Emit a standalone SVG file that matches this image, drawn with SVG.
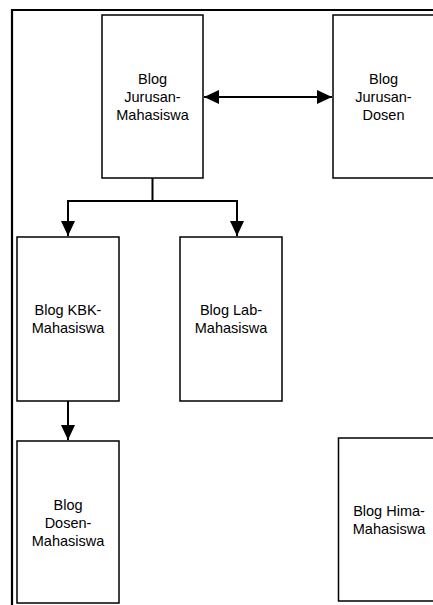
<svg xmlns="http://www.w3.org/2000/svg" width="433" height="605" viewBox="0 0 433 605">
<style>
.box{fill:#fff;stroke:#000;stroke-width:1.5}
.lbl{font-family:"Liberation Sans",Arial,sans-serif;font-size:14.5px;fill:#000;text-anchor:middle}
.conn{fill:none;stroke:#000;stroke-width:2}
</style>
<defs>
<marker id="ah" markerUnits="userSpaceOnUse" markerWidth="17" markerHeight="17" viewBox="0 0 17 17" refX="16" refY="8.5" orient="auto-start-reverse">
<path d="M1,1.5 L16,8.5 L1,15.5 Z" fill="#000"/>
</marker>
</defs>
<rect x="0" y="0" width="433" height="605" fill="#fff"/>
<path d="M12,605 V10 H433" fill="none" stroke="#000" stroke-width="2.2"/>
<g id="jurusan-mahasiswa">
<rect class="box" x="102" y="15" width="101" height="163"/>
<text class="lbl" x="152.5" y="84">Blog</text>
<text class="lbl" x="152.5" y="102">Jurusan-</text>
<text class="lbl" x="152.5" y="120">Mahasiswa</text>
</g>
<g id="jurusan-dosen">
<rect class="box" x="333" y="15" width="110" height="163"/>
<text class="lbl" x="383.5" y="84">Blog</text>
<text class="lbl" x="383.5" y="102">Jurusan-</text>
<text class="lbl" x="383.5" y="120">Dosen</text>
</g>
<g id="kbk-mahasiswa">
<rect class="box" x="17" y="237" width="102" height="164"/>
<text class="lbl" x="68" y="315">Blog KBK-</text>
<text class="lbl" x="68" y="333">Mahasiswa</text>
</g>
<g id="lab-mahasiswa">
<rect class="box" x="180" y="237" width="102" height="164"/>
<text class="lbl" x="231" y="315">Blog Lab-</text>
<text class="lbl" x="231" y="333">Mahasiswa</text>
</g>
<g id="dosen-mahasiswa">
<rect class="box" x="17" y="441" width="102" height="162"/>
<text class="lbl" x="68" y="510">Blog</text>
<text class="lbl" x="68" y="528">Dosen-</text>
<text class="lbl" x="68" y="546">Mahasiswa</text>
</g>
<g id="hima-mahasiswa">
<rect class="box" x="338.5" y="438" width="110" height="163"/>
<text class="lbl" x="389" y="516">Blog Hima-</text>
<text class="lbl" x="389" y="534">Mahasiswa</text>
</g>
<g id="connectors">
<path class="conn" d="M204,97 H332" marker-start="url(#ah)" marker-end="url(#ah)"/>
<path class="conn" d="M152.5,178 V201 H68 V236" marker-end="url(#ah)"/>
<path class="conn" d="M152.5,201 H237 V236" marker-end="url(#ah)"/>
<path class="conn" d="M68,401 V440" marker-end="url(#ah)"/>
</g>
</svg>
